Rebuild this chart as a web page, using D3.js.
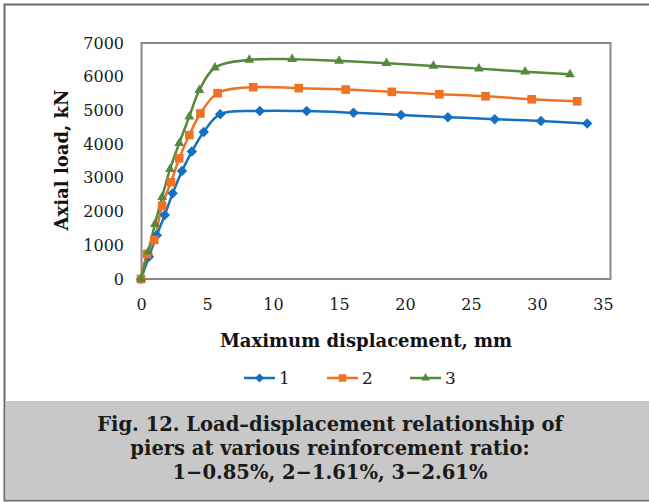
<!DOCTYPE html>
<html>
<head>
<meta charset="utf-8">
<script src="https://cdn.jsdelivr.net/npm/d3@7"></script>
<style>
  body { margin: 0; background: #fff; }
  svg { display: block; }
</style>
</head>
<body>
<svg id="chart" width="649" height="502"></svg>
<script>
const seriesNames = ["1", "2", "3"];
const colors = ["#1570bf", "#ee7125", "#56893b"];

// displacement (mm) and axial load (kN)
const disp1 = [0, 0.6, 1.2, 1.8, 2.4, 3.1, 3.85, 4.75, 6.0, 9.0, 12.55, 16.1, 19.7, 23.25, 26.8, 30.3, 33.8];
const load1 = [0, 660, 1300, 1900, 2540, 3200, 3780, 4360, 4890, 4985, 4980, 4930, 4865, 4800, 4740, 4685, 4610];
const disp2 = [0, 0.45, 1.0, 1.6, 2.27, 2.9, 3.66, 4.5, 5.8, 8.5, 11.95, 15.5, 19.0, 22.6, 26.1, 29.6, 33.05];
const load2 = [0, 740, 1160, 2170, 2870, 3580, 4270, 4910, 5510, 5690, 5660, 5620, 5550, 5480, 5420, 5330, 5270];
const disp3 = [0, 0.55, 1.06, 1.6, 2.2, 2.9, 3.66, 4.42, 5.6, 8.2, 11.45, 15.0, 18.6, 22.15, 25.6, 29.1, 32.5];
const load3 = [0, 810, 1630, 2430, 3260, 4030, 4815, 5600, 6270, 6500, 6520, 6470, 6400, 6320, 6240, 6150, 6070];

const xTicks = [0, 5, 10, 15, 20, 25, 30, 35];
const yTicks = [0, 1000, 2000, 3000, 4000, 5000, 6000, 7000];
const captionLines = [
  "Fig. 12. Load\u2013displacement relationship of",
  "piers at various reinforcement ratio:",
  "1\u22120.85%, 2\u22121.61%, 3\u22122.61%"
];

const series = [
  { name: seriesNames[0], color: colors[0], shape: d3.symbolDiamond2, size: 70, pts: disp1.map((d, i) => [d, load1[i]]) },
  { name: seriesNames[1], color: colors[1], shape: d3.symbolSquare2, size: 95, pts: disp2.map((d, i) => [d, load2[i]]) },
  { name: seriesNames[2], color: colors[2], shape: d3.symbolTriangle2, size: 70, pts: disp3.map((d, i) => [d, load3[i]]) }
];

const svg = d3.select("#chart");
const serif = "'DejaVu Serif', 'Liberation Serif', serif";

// outer frame
svg.append("path")
  .attr("d", "M649,4.5 H4.5 V500.5 H649")
  .attr("fill", "none")
  .attr("stroke", "#6a6a6a")
  .attr("stroke-width", 2);

// caption box
svg.append("rect")
  .attr("x", 5.5).attr("y", 401)
  .attr("width", 644).attr("height", 98.5)
  .attr("fill", "#c8c8c8");

svg.append("g")
  .selectAll("text")
  .data(captionLines)
  .join("text")
    .attr("x", 330)
    .attr("y", (d, i) => 431 + i * 24)
    .attr("text-anchor", "middle")
    .style("font", `bold 19.5px ${serif}`)
    .attr("fill", "#1a1a1a")
    .text(d => d);

const x = d3.scaleLinear().domain([0, 35]).range([141, 603]);
const y = d3.scaleLinear().domain([0, 7000]).range([279, 43]);

// plot box
svg.append("rect")
  .attr("x", 141.5).attr("y", 43)
  .attr("width", 469).attr("height", 236)
  .attr("fill", "none")
  .attr("stroke", "#8a8a8a")
  .attr("stroke-width", 2);

// axes (labels only, Excel style)
const xAxis = svg.append("g")
  .attr("transform", "translate(0,279)")
  .call(d3.axisBottom(x).tickValues(xTicks).tickSize(0).tickPadding(20));
xAxis.select(".domain").remove();
xAxis.selectAll("text").style("font", `16px ${serif}`).attr("fill", "#1a1a1a");

const yAxis = svg.append("g")
  .attr("transform", "translate(141,0)")
  .call(d3.axisLeft(y).tickValues(yTicks).tickFormat(d3.format("d")).tickSize(0).tickPadding(17));
yAxis.select(".domain").remove();
yAxis.selectAll("text").style("font", `16px ${serif}`).attr("fill", "#1a1a1a");

// axis titles
svg.append("text")
  .attr("x", 366).attr("y", 347)
  .attr("text-anchor", "middle")
  .style("font", `bold 18px ${serif}`)
  .attr("fill", "#111")
  .text("Maximum displacement, mm");

svg.append("text")
  .attr("transform", "translate(68,160) rotate(-90)")
  .attr("text-anchor", "middle")
  .style("font", `bold 18px ${serif}`)
  .attr("fill", "#111")
  .text("Axial load, kN");

// lines and markers
const line = d3.line()
  .x(d => x(d[0]))
  .y(d => y(d[1]))
  .curve(d3.curveCatmullRom.alpha(0.5));

const plot = svg.append("g");
series.forEach(s => {
  plot.append("path")
    .attr("d", line(s.pts))
    .attr("fill", "none")
    .attr("stroke", s.color)
    .attr("stroke-width", 2.5);
});
series.forEach(s => {
  plot.append("g")
    .selectAll("path")
    .data(s.pts)
    .join("path")
      .attr("transform", d => `translate(${x(d[0])},${y(d[1])})`)
      .attr("d", d3.symbol(s.shape, s.size))
      .attr("fill", s.color);
});

// legend
const legendX = [244, 327, 410];
const legend = svg.append("g")
  .selectAll("g")
  .data(series)
  .join("g")
    .attr("transform", (d, i) => `translate(${legendX[i]},378)`);
legend.append("line")
  .attr("x1", 0).attr("x2", 31)
  .attr("stroke", d => d.color)
  .attr("stroke-width", 2.5);
legend.append("path")
  .attr("transform", "translate(15.5,0)")
  .attr("d", d => d3.symbol(d.shape, d.size * 0.75)())
  .attr("fill", d => d.color);
legend.append("text")
  .attr("x", 35).attr("y", 6)
  .style("font", `17px ${serif}`)
  .attr("fill", "#1a1a1a")
  .text(d => d.name);
</script>
</body>
</html>
